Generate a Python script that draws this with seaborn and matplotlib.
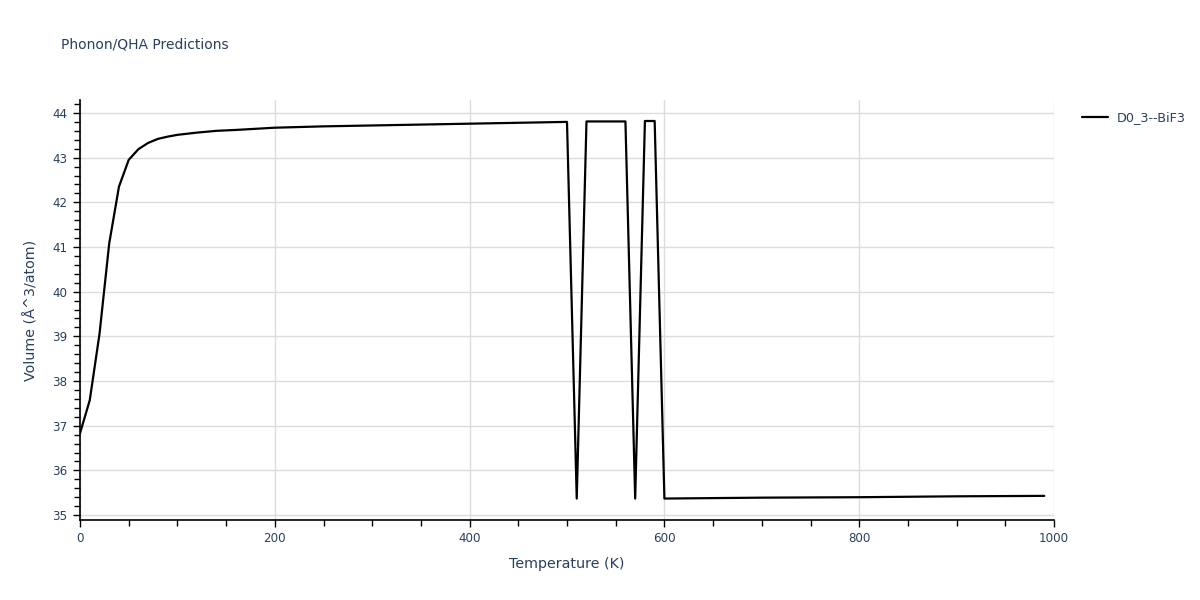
"""
Phonon/QHA volume vs temperature for D0_3--BiF3.
"""

import matplotlib
matplotlib.use('Agg')
import matplotlib.pyplot as plt
from matplotlib.ticker import MultipleLocator
import pandas as pd
import seaborn as sns

# Values
temperatures = [0, 10, 20, 30, 40, 50, 60, 70, 80, 90, 100, 120, 140, 160, 180, 200,
                250, 300, 350, 400, 450, 500, 510, 520, 530, 540, 550, 560, 570,
                580, 590, 600, 700, 800, 900, 990]
volumes = [36.83, 37.57, 39.05, 41.08, 42.35, 42.95, 43.19, 43.33, 43.42, 43.47, 43.51,
           43.56, 43.60, 43.62, 43.645, 43.67, 43.70, 43.72, 43.74, 43.76, 43.78, 43.80,
           35.37, 43.81, 43.81, 43.81, 43.81, 43.81, 35.37, 43.82, 43.82, 35.37,
           35.39, 35.40, 35.42, 35.43]
series_name = 'D0_3--BiF3'

TEXT = '#2a3f5f'
GRID = '#dcdcdc'

sns.set_theme(style='whitegrid')
plt.rcParams['font.family'] = ['DejaVu Sans']

df = pd.DataFrame({'Temperature': temperatures, 'Volume': volumes, 'name': series_name})

fig = plt.figure(figsize=(12, 6), dpi=100)
ax = fig.add_axes([80 / 1200, 80 / 600, 974 / 1200, 420 / 600])

sns.lineplot(data=df, x='Temperature', y='Volume', hue='name', palette=['black'],
             linewidth=1.6, sort=False, ax=ax)

ax.set_xlim(0, 1000)
ax.set_ylim(34.89, 44.29)
ax.xaxis.set_major_locator(MultipleLocator(200))
ax.xaxis.set_minor_locator(MultipleLocator(50))
ax.yaxis.set_major_locator(MultipleLocator(1))
ax.yaxis.set_minor_locator(MultipleLocator(0.2))

ax.grid(True, which='major', color=GRID, linewidth=1)
ax.grid(False, which='minor')
ax.set_facecolor('white')
for side in ['top', 'right']:
    ax.spines[side].set_visible(False)
for side in ['left', 'bottom']:
    ax.spines[side].set_color('black')
    ax.spines[side].set_linewidth(1.2)

ax.tick_params(which='both', direction='out', color='black', labelcolor=TEXT,
               labelsize=8.6, bottom=True, left=True)
ax.tick_params(which='major', length=5, width=1, pad=4)
ax.tick_params(which='minor', length=4, width=1)

ax.set_xlabel('Temperature (K)', fontsize=10.3, color=TEXT, labelpad=8)
ax.set_ylabel('Volume (Å^3/atom)', fontsize=10.3, color=TEXT, labelpad=10)

fig.text(61 / 1200, 1 - 45 / 600, 'Phonon/QHA Predictions', fontsize=10, color=TEXT,
         va='center', ha='left')

leg = ax.legend(loc='upper left', bbox_to_anchor=(1.017, 1.0), frameon=False,
                fontsize=9.2, handlelength=2.0, handletextpad=0.7, title=None)
for t in leg.get_texts():
    t.set_color(TEXT)

plt.savefig('out.png', dpi=100)
